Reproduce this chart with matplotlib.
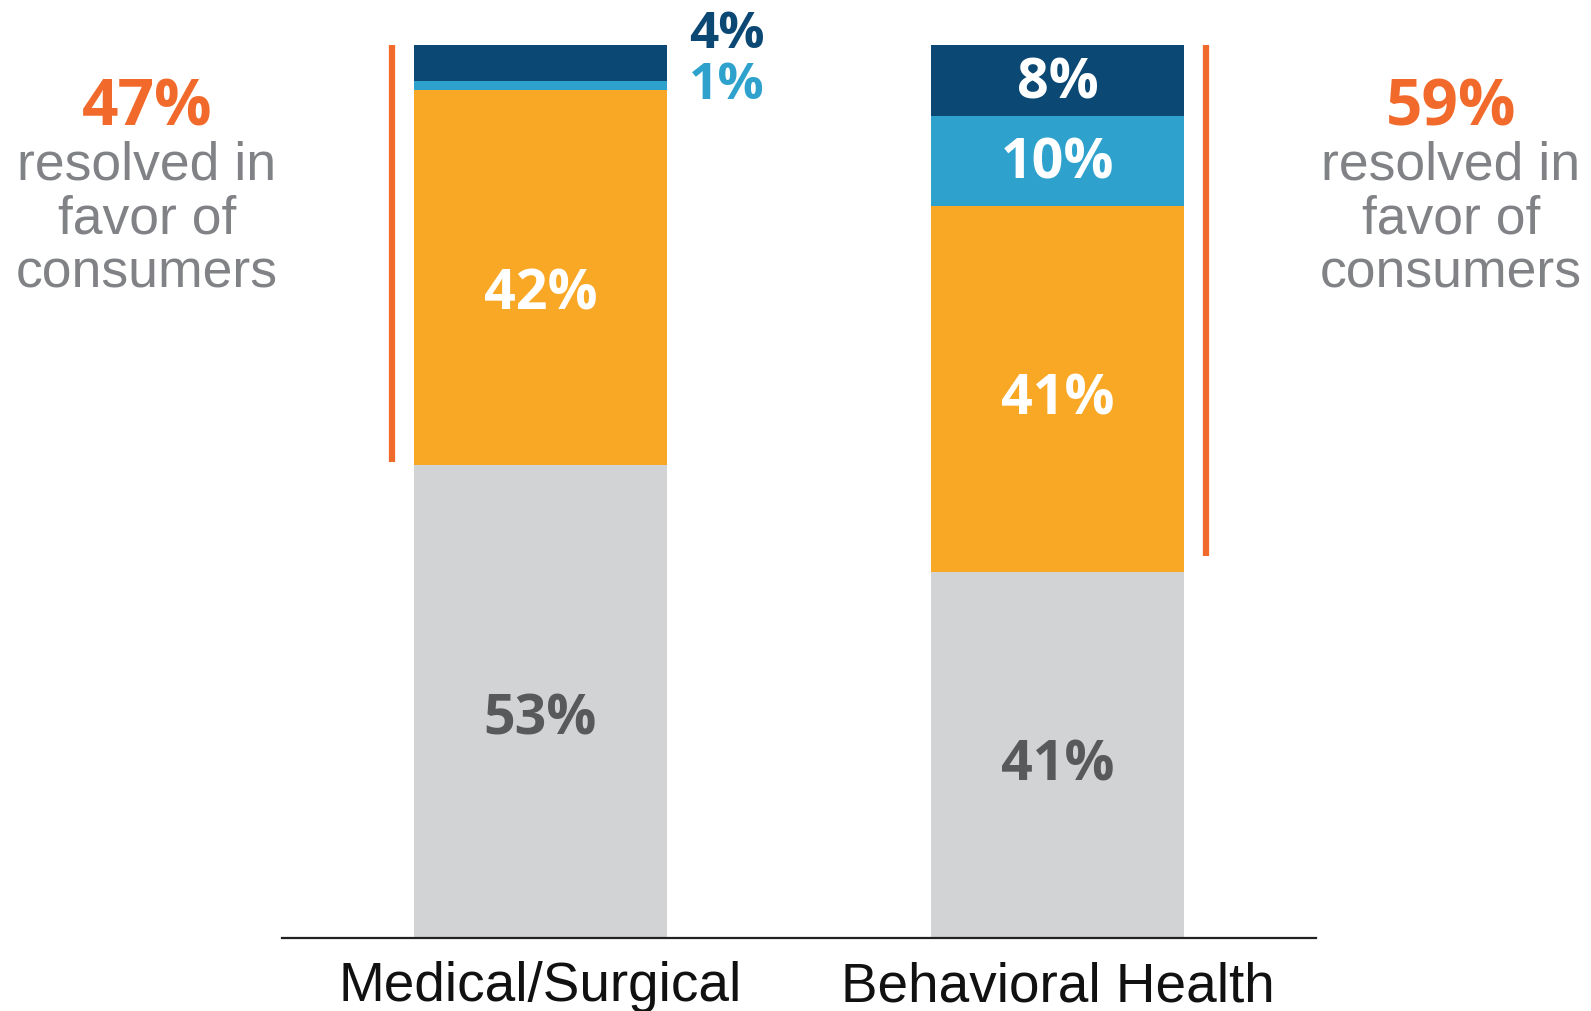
# Stacked bars: how appeals were resolved, medical/surgical vs behavioral health

import matplotlib.pyplot as plt

# Data
categories = ['Medical/Surgical', 'Behavioral Health']
seg_grey = [53, 41]      # not in favor of consumers
seg_orange = [42, 41]
seg_lightblue = [1, 10]
seg_navy = [4, 8]
favor_total = [47, 59]   # orange + light blue + navy

# Colours
c_grey = '#D1D3D4'
c_orange = '#F9A825'
c_lightblue = '#2EA2CD'
c_navy = '#0B4874'
c_accent = '#F26A2B'
c_text_dark = '#58595B'
c_text_light = '#808285'

num_font = 'Open Sans'
txt_font = 'Liberation Sans'

fig = plt.figure(figsize=(15.91, 10.12), dpi=100)
ax = fig.add_axes([0.1772, 0.0721, 0.65, 0.8824])

x = [0, 1]
w = 0.49
segments = [
    (seg_grey, c_grey, c_text_dark),
    (seg_orange, c_orange, 'white'),
    (seg_lightblue, c_lightblue, 'white'),
    (seg_navy, c_navy, 'white'),
]

bottom = [0, 0]
for vals, col, tcol in segments:
    ax.bar(x, vals, width=w, bottom=bottom, color=col, edgecolor='none')
    for i in range(len(x)):
        v = vals[i]
        mid = bottom[i] + v / 2
        if v >= 5:
            # small nudges so labels sit where the source has them
            if i == 0:
                dy = -1.2
            else:
                dy = -0.4 if v > 20 else 0.5
            ax.text(x[i], mid + dy, f'{v}%', ha='center', va='center_baseline',
                    fontsize=40, fontweight='bold', color=tcol, family=num_font)
    bottom = [b + v for b, v in zip(bottom, vals)]

# small segments on the left bar get their labels outside, to the right
ax.text(x[0] + 0.36, 101.9, f'{seg_navy[0]}%', ha='center', va='center_baseline',
        fontsize=37, fontweight='bold', color=c_navy, family=num_font, clip_on=False)
ax.text(x[0] + 0.36, 96.2, f'{seg_lightblue[0]}%', ha='center', va='center_baseline',
        fontsize=37, fontweight='bold', color=c_lightblue, family=num_font, clip_on=False)

# orange brackets + "resolved in favor of consumers" notes
gaps = [0.3, 1.8]
for i, side in enumerate([-1, 1]):
    bx = x[i] + side * 0.287
    ax.plot([bx, bx], [100, 100 - favor_total[i] + gaps[i]], color=c_accent,
            lw=4.5, solid_capstyle='butt', clip_on=False)
    tx = x[i] + side * 0.761
    ax.text(tx, 93.8, f'{favor_total[i]}%', ha='center', va='center_baseline',
            fontsize=46, fontweight='bold', color=c_accent, family=num_font, clip_on=False)
    ax.text(tx, 80.6, 'resolved in\nfavor of\nconsumers', ha='center', va='center',
            fontsize=38.5, color=c_text_light, family=txt_font, linespacing=1.1,
            clip_on=False)

ax.set_xlim(-0.5, 1.5)
ax.set_ylim(0, 100)
for s in ['left', 'right', 'top']:
    ax.spines[s].set_visible(False)
ax.spines['bottom'].set_color('#222222')
ax.spines['bottom'].set_linewidth(1.6)
ax.set_yticks([])
ax.set_xticks(x)
ax.set_xticklabels(categories, fontsize=39.5, family=txt_font, color='#111111')
ax.tick_params(axis='x', length=0, pad=16)

plt.savefig('out.png', dpi=100)
